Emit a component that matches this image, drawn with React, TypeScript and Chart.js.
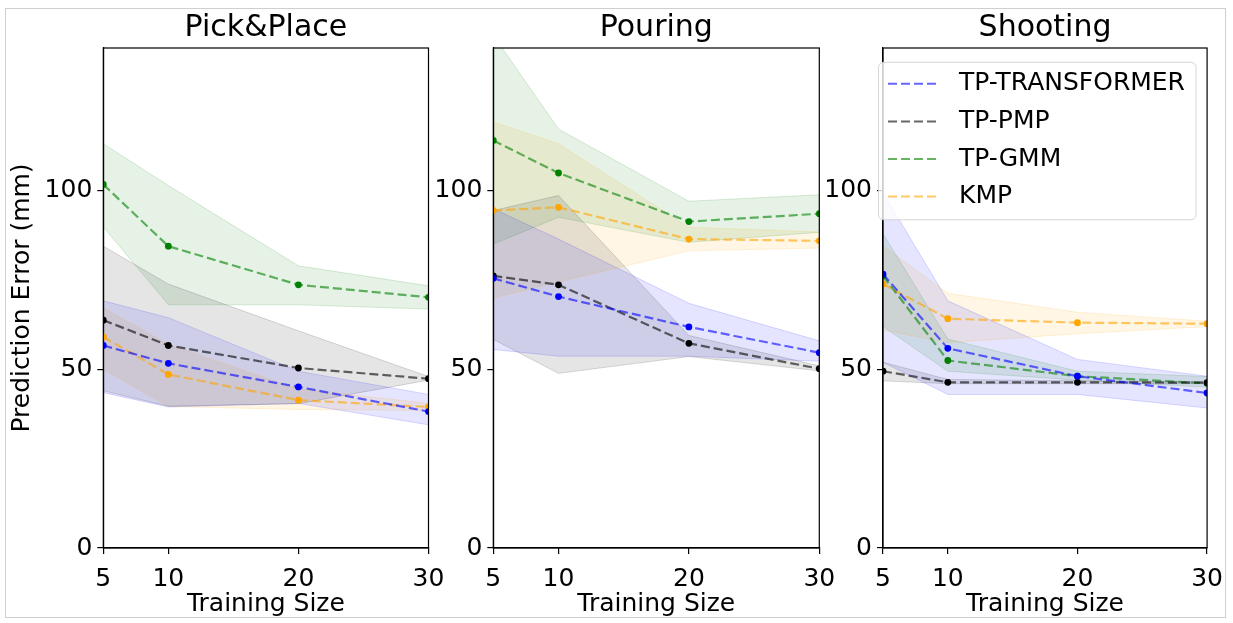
import React, { useEffect, useRef } from 'react';
import { Chart, registerables } from 'chart.js';

Chart.register(...registerables);

const PAGE_W = 1233;
const PAGE_H = 623;
const FONT_FAMILY = "'DejaVu Sans', sans-serif";

// ---- data ----------------------------------------------------------------
const TRAINING_SIZES = [5, 10, 20, 30];
const X_TICKS = [5, 10, 20, 30];
const Y_TICKS = [0, 50, 100];
const Y_MAX = 140;

const METHODS = ['TP-TRANSFORMER', 'TP-PMP', 'TP-GMM', 'KMP'];
const TASKS = ['Pick&Place', 'Pouring', 'Shooting'];

// Pick&Place
const PICK_TRANSFORMER_MEAN = [56.7, 51.7, 45.1, 38.2];
const PICK_TRANSFORMER_LOW = [43.5, 39.5, 40.5, 34.5];
const PICK_TRANSFORMER_HIGH = [69.2, 64.5, 49.5, 43.0];
const PICK_PMP_MEAN = [63.8, 56.7, 50.4, 47.4];
const PICK_PMP_LOW = [44.0, 39.7, 40.4, 47.0];
const PICK_PMP_HIGH = [84.5, 73.9, 60.8, 48.0];
const PICK_GMM_MEAN = [101.8, 84.5, 73.7, 70.2];
const PICK_GMM_LOW = [89.9, 68.1, 68.1, 66.9];
const PICK_GMM_HIGH = [113.2, 101.5, 79.0, 73.4];
const PICK_KMP_MEAN = [59.1, 48.6, 41.4, 39.5];
const PICK_KMP_LOW = [50.0, 39.6, 38.8, 38.5];
const PICK_KMP_HIGH = [67.3, 57.0, 44.5, 40.5];

// Pouring
const POUR_TRANSFORMER_MEAN = [75.5, 70.4, 61.9, 54.7];
const POUR_TRANSFORMER_LOW = [55.6, 53.7, 53.7, 52.3];
const POUR_TRANSFORMER_HIGH = [95.0, 86.5, 68.5, 58.0];
const POUR_PMP_MEAN = [76.2, 73.7, 57.3, 50.2];
const POUR_PMP_LOW = [58.4, 48.9, 53.6, 49.6];
const POUR_PMP_HIGH = [94.5, 98.7, 59.5, 51.0];
const POUR_GMM_MEAN = [114.1, 105.0, 91.4, 93.6];
const POUR_GMM_LOW = [85.1, 92.6, 85.6, 88.4];
const POUR_GMM_HIGH = [143.6, 117.3, 97.1, 98.9];
const POUR_KMP_MEAN = [94.5, 95.4, 86.5, 86.0];
const POUR_KMP_LOW = [70.0, 74.5, 83.2, 84.0];
const POUR_KMP_HIGH = [119.3, 113.2, 89.8, 88.5];

// Shooting
const SHOOT_TRANSFORMER_MEAN = [76.7, 55.9, 48.1, 43.4];
const SHOOT_TRANSFORMER_LOW = [52.0, 43.0, 43.0, 39.2];
const SHOOT_TRANSFORMER_HIGH = [99.5, 69.2, 52.8, 48.1];
const SHOOT_PMP_MEAN = [49.5, 46.4, 46.4, 46.3];
const SHOOT_PMP_LOW = [46.8, 46.0, 46.0, 46.0];
const SHOOT_PMP_HIGH = [52.0, 47.2, 46.8, 46.6];
const SHOOT_GMM_MEAN = [76.2, 52.5, 48.1, 46.1];
const SHOOT_GMM_LOW = [62.0, 49.5, 47.0, 45.0];
const SHOOT_GMM_HIGH = [88.0, 58.5, 49.5, 48.0];
const SHOOT_KMP_MEAN = [73.9, 64.2, 63.1, 62.8];
const SHOOT_KMP_LOW = [61.0, 57.5, 60.0, 62.0];
const SHOOT_KMP_HIGH = [84.6, 71.3, 66.0, 63.5];

type Series = { mean: number[]; low: number[]; high: number[] };

const TASK_SERIES: Series[][] = [
  [
    { mean: PICK_TRANSFORMER_MEAN, low: PICK_TRANSFORMER_LOW, high: PICK_TRANSFORMER_HIGH },
    { mean: PICK_PMP_MEAN, low: PICK_PMP_LOW, high: PICK_PMP_HIGH },
    { mean: PICK_GMM_MEAN, low: PICK_GMM_LOW, high: PICK_GMM_HIGH },
    { mean: PICK_KMP_MEAN, low: PICK_KMP_LOW, high: PICK_KMP_HIGH },
  ],
  [
    { mean: POUR_TRANSFORMER_MEAN, low: POUR_TRANSFORMER_LOW, high: POUR_TRANSFORMER_HIGH },
    { mean: POUR_PMP_MEAN, low: POUR_PMP_LOW, high: POUR_PMP_HIGH },
    { mean: POUR_GMM_MEAN, low: POUR_GMM_LOW, high: POUR_GMM_HIGH },
    { mean: POUR_KMP_MEAN, low: POUR_KMP_LOW, high: POUR_KMP_HIGH },
  ],
  [
    { mean: SHOOT_TRANSFORMER_MEAN, low: SHOOT_TRANSFORMER_LOW, high: SHOOT_TRANSFORMER_HIGH },
    { mean: SHOOT_PMP_MEAN, low: SHOOT_PMP_LOW, high: SHOOT_PMP_HIGH },
    { mean: SHOOT_GMM_MEAN, low: SHOOT_GMM_LOW, high: SHOOT_GMM_HIGH },
    { mean: SHOOT_KMP_MEAN, low: SHOOT_KMP_LOW, high: SHOOT_KMP_HIGH },
  ],
];

// ---- styling -------------------------------------------------------------
const METHOD_RGB: number[][] = [
  [0, 0, 255],
  [0, 0, 0],
  [0, 128, 0],
  [255, 165, 0],
];
const LINE_ALPHA = 0.6;
const BAND_ALPHA = 0.1;
const DASH = [9, 4];
const LABEL_SIZE = 25;
const TITLE_SIZE = 30;

// Plot-area horizontal extents of the three subplots
const PANEL_BOUNDS = [
  { left: 103.3, right: 428.5 },
  { left: 493.3, right: 819.3 },
  { left: 883, right: 1209 },
];

const rgba = (c: number[], a: number) => `rgba(${c[0]},${c[1]},${c[2]},${a})`;
const toPoints = (values: number[]) => TRAINING_SIZES.map((x, i) => ({ x, y: values[i] }));

const framePlugin = {
  id: 'axesFrame',
  afterDatasetsDraw(chart: any) {
    const { ctx, chartArea: a } = chart;
    ctx.save();
    ctx.strokeStyle = '#000';
    ctx.lineWidth = 1.2;
    ctx.strokeRect(a.left, a.top, a.right - a.left, a.bottom - a.top);
    ctx.restore();
  },
};

const insetLegendPlugin = {
  id: 'insetLegend',
  afterDraw(chart: any) {
    const { ctx, chartArea: a } = chart;
    const x = a.left - 4.5;
    const y = a.top + 14.3;
    const w = 317.5;
    const h = 157.5;
    ctx.save();
    ctx.beginPath();
    if (ctx.roundRect) ctx.roundRect(x, y, w, h, 5);
    else ctx.rect(x, y, w, h);
    ctx.fillStyle = 'rgba(255,255,255,0.8)';
    ctx.fill();
    ctx.strokeStyle = 'rgba(204,204,204,0.8)';
    ctx.lineWidth = 1;
    ctx.stroke();
    ctx.font = `${LABEL_SIZE}px ${FONT_FAMILY}`;
    ctx.textBaseline = 'middle';
    ctx.textAlign = 'left';
    METHODS.forEach((name, i) => {
      const rowY = y + 21.5 + i * 37.6;
      ctx.setLineDash(DASH);
      ctx.strokeStyle = rgba(METHOD_RGB[i], LINE_ALPHA);
      ctx.lineWidth = 2;
      ctx.beginPath();
      ctx.moveTo(x + 9.5, rowY);
      ctx.lineTo(x + 59.5, rowY);
      ctx.stroke();
      ctx.setLineDash([]);
      ctx.fillStyle = '#000';
      ctx.fillText(name, x + 80.5, rowY);
    });
    ctx.restore();
  },
};

function makeConfig(taskIndex: number): any {
  const bounds = PANEL_BOUNDS[taskIndex];
  const showYTitle = taskIndex === 0;
  const padLeft = showYTitle ? 7 : bounds.left - 75;
  const yWidth = bounds.left - padLeft;
  const series = TASK_SERIES[taskIndex];

  const datasets: any[] = [];
  series.forEach((s, m) => {
    const rgb = METHOD_RGB[m];
    datasets.push({
      label: METHODS[m],
      data: toPoints(s.mean),
      borderColor: rgba(rgb, LINE_ALPHA),
      borderDash: DASH,
      borderWidth: 2.2,
      pointRadius: 3.4,
      pointBackgroundColor: rgba(rgb, 1),
      pointBorderColor: rgba(rgb, 1),
      pointBorderWidth: 0,
      fill: false,
      tension: 0,
      order: 0,
    });
  });
  series.forEach((s, m) => {
    const rgb = METHOD_RGB[m];
    datasets.push({
      label: `${METHODS[m]} upper`,
      data: toPoints(s.high),
      borderColor: rgba(rgb, 0.15),
      borderWidth: 1,
      pointRadius: 0,
      fill: false,
      tension: 0,
      order: 1,
    });
    datasets.push({
      label: `${METHODS[m]} lower`,
      data: toPoints(s.low),
      borderColor: rgba(rgb, 0.15),
      backgroundColor: rgba(rgb, BAND_ALPHA),
      borderWidth: 1,
      pointRadius: 0,
      fill: '-1',
      tension: 0,
      order: 1,
    });
  });

  const axisGrid = {
    display: true,
    drawOnChartArea: false,
    drawTicks: true,
    tickLength: 6,
    color: '#000',
    lineWidth: 1.2,
  };
  const axisBorder = { display: true, color: '#000', width: 1.2 };
  const labelFont = { size: LABEL_SIZE, family: FONT_FAMILY };

  return {
    type: 'line',
    data: { datasets },
    plugins: taskIndex === 2 ? [framePlugin, insetLegendPlugin] : [framePlugin],
    options: {
      responsive: false,
      animation: false,
      devicePixelRatio: 1,
      events: [],
      layout: {
        padding: { left: padLeft, right: PAGE_W - bounds.right, top: 0, bottom: 4 },
      },
      plugins: {
        legend: { display: false },
        tooltip: { enabled: false },
        filler: { drawTime: 'beforeDatasetsDraw' },
        title: {
          display: true,
          text: TASKS[taskIndex],
          fullSize: false,
          color: '#000',
          font: { size: TITLE_SIZE, family: FONT_FAMILY, weight: 'normal' },
          padding: { top: 10, bottom: 2 },
        },
      },
      scales: {
        x: {
          type: 'linear',
          min: TRAINING_SIZES[0],
          max: TRAINING_SIZES[TRAINING_SIZES.length - 1],
          afterBuildTicks: (scale: any) => {
            scale.ticks = X_TICKS.map((v) => ({ value: v }));
          },
          afterFit: (scale: any) => {
            scale.height = 71;
          },
          ticks: {
            color: '#000',
            font: labelFont,
            padding: 10,
            maxRotation: 0,
            autoSkip: false,
            callback: (v: number) => String(v),
          },
          grid: axisGrid,
          border: axisBorder,
          title: {
            display: true,
            text: 'Training Size',
            color: '#000',
            font: labelFont,
            padding: 0,
          },
        },
        y: {
          type: 'linear',
          min: 0,
          max: Y_MAX,
          afterBuildTicks: (scale: any) => {
            scale.ticks = Y_TICKS.map((v) => ({ value: v }));
          },
          afterFit: (scale: any) => {
            scale.width = yWidth;
          },
          ticks: {
            color: '#000',
            font: labelFont,
            padding: 5,
            callback: (v: number) => String(v),
          },
          grid: axisGrid,
          border: axisBorder,
          title: {
            display: showYTitle,
            text: 'Prediction Error (mm)',
            color: '#000',
            font: labelFont,
            padding: 0,
          },
        },
      },
    },
  };
}

function Panel({ taskIndex }: { taskIndex: number }) {
  const ref = useRef<HTMLCanvasElement | null>(null);
  useEffect(() => {
    if (!ref.current) return;
    const chart = new Chart(ref.current, makeConfig(taskIndex));
    return () => chart.destroy();
  }, [taskIndex]);
  return (
    <canvas
      ref={ref}
      width={PAGE_W}
      height={PAGE_H}
      style={{ position: 'absolute', left: 0, top: 0, width: PAGE_W, height: PAGE_H }}
    />
  );
}

export default function App() {
  return (
    <div
      style={{
        position: 'fixed',
        left: 0,
        top: 0,
        width: PAGE_W,
        height: PAGE_H,
        background: '#fff',
        overflow: 'hidden',
        fontFamily: FONT_FAMILY,
      }}
    >
      <div
        style={{
          position: 'absolute',
          left: 5,
          top: 8,
          width: 1221,
          height: 610,
          border: '1px solid #cfcfcf',
          boxSizing: 'border-box',
        }}
      />
      {TASKS.map((_, i) => (
        <Panel key={i} taskIndex={i} />
      ))}
    </div>
  );
}
